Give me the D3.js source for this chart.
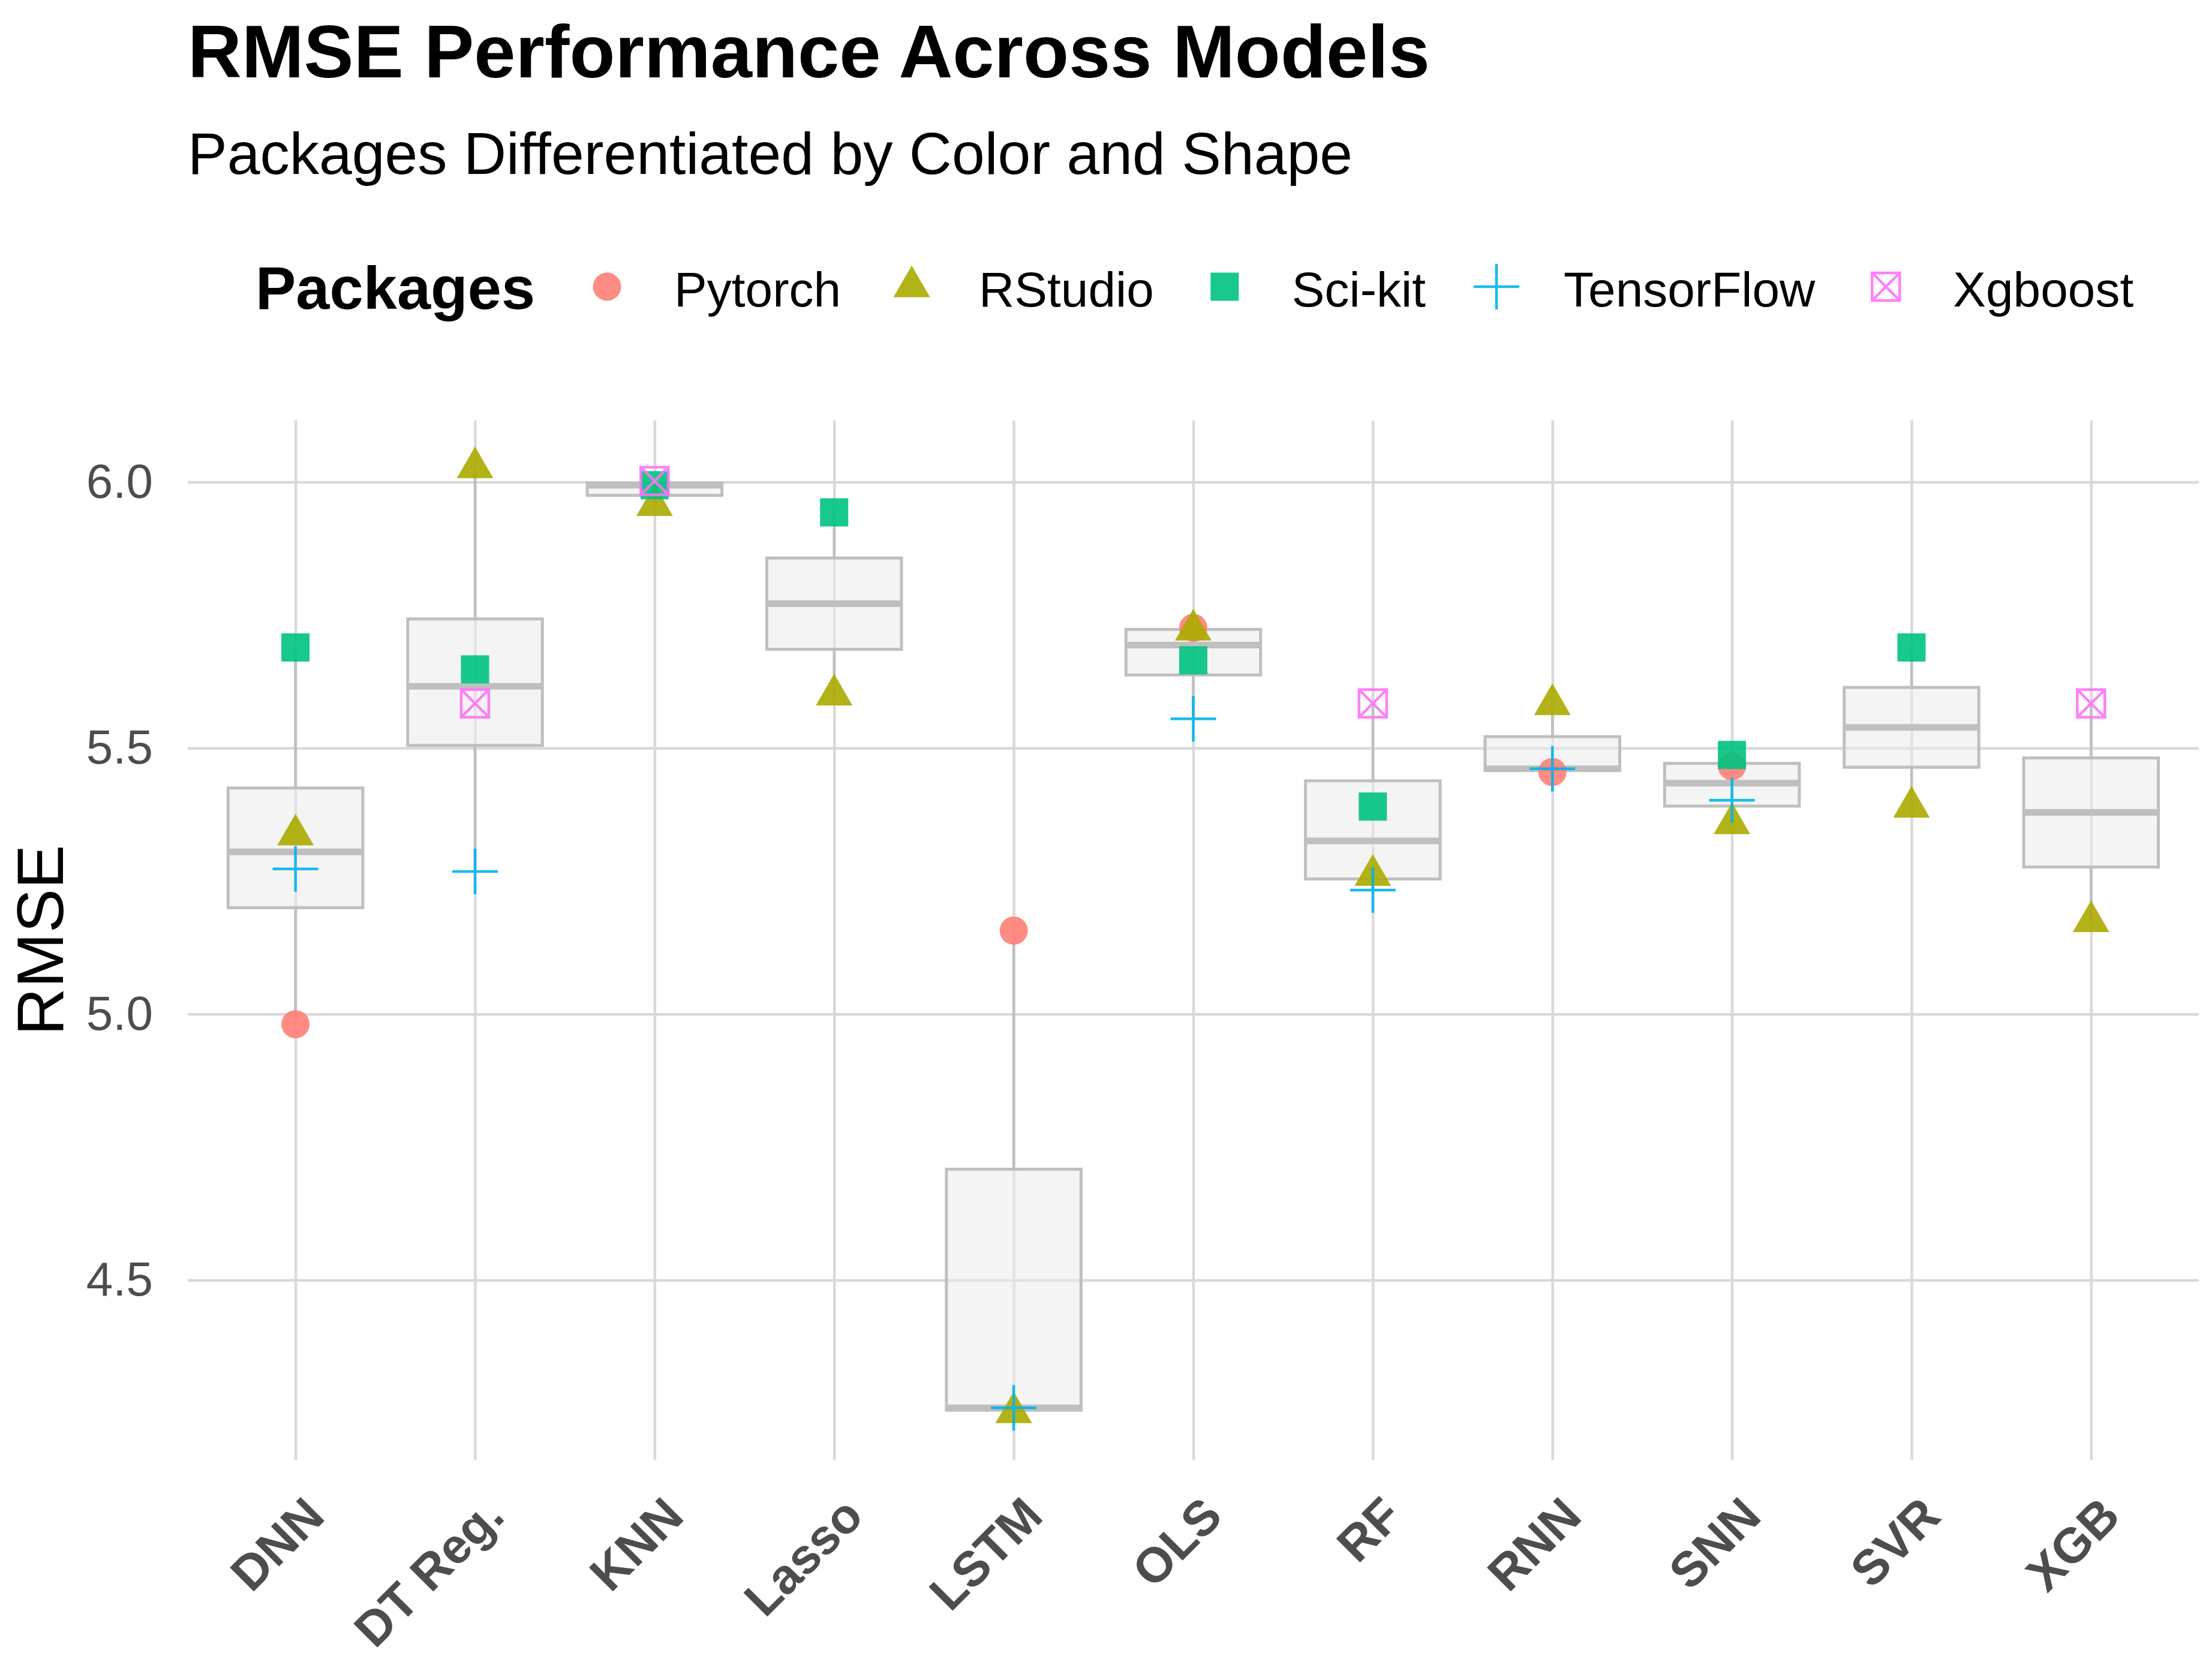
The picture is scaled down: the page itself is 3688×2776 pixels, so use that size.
<!DOCTYPE html>
<html>
<head>
<meta charset="utf-8">
<script src="https://cdn.jsdelivr.net/npm/d3@7"></script>
<style>
  body { margin: 0; background: #fff; }
  text { font-family: 'Liberation Sans', Arial, sans-serif; }
</style>
</head>
<body>
<svg id="chart"></svg>
<script>
// categories on the x axis
let models = ['DNN', 'DT Reg.', 'KNN', 'Lasso', 'LSTM', 'OLS', 'RF', 'RNN', 'SNN', 'SVR', 'XGB'];
let packages = ['Pytorch', 'RStudio', 'Sci-kit', 'TensorFlow', 'Xgboost'];

// RMSE per package, one value per model (null = not run)
let pytorch    = [4.981, null,  null,  null,  5.157, 5.726, null,  5.455, 5.466, null,  null];
let rstudio    = [5.337, 6.027, 5.956, 5.600, 4.251, 5.722, 5.261, 5.582, 5.358, 5.389, 5.174];
let scikit     = [5.689, 5.648, 5.994, 5.943, null,  5.665, 5.390, null,  5.487, 5.689, null];
let tensorflow = [5.273, 5.268, null,  null,  4.260, 5.555, 5.233, 5.461, 5.402, null,  null];
let xgboost    = [null,  5.584, 6.002, null,  null,  null,  5.584, null,  null,  null,  5.584];

let yTicks = [4.5, 5.0, 5.5, 6.0];

let seriesValues = [pytorch, rstudio, scikit, tensorflow, xgboost];
let colors = ['#FF7F77', '#ABAB00', '#00C27F', '#00B2EE', '#FF72F7'];

let width = 3688, height = 2776;
let panel = {left: 313, right: 3666, top: 701, bottom: 2434};

let svg = d3.select('#chart')
        .attr('width', width)
        .attr('height', height);

// long format table
let points = [];
packages.forEach(function(p, i) {
  seriesValues[i].forEach(function(v, j) {
    if (v !== null) points.push({pkg: p, idx: i, model: models[j], value: v});
  });
});

let allVals = points.map(function(d) { return d.value; });
let lo = d3.min(allVals), hi = d3.max(allVals);
let pad = (hi - lo) * 0.05;

let x = d3.scalePoint()
        .domain(models)
        .range([panel.left, panel.right])
        .padding(0.6);

let y = d3.scaleLinear()
        .domain([lo - pad, hi + pad])
        .range([panel.bottom, panel.top]);

// grid + y tick labels
let yAxis = d3.axisLeft(y)
        .tickValues(yTicks)
        .tickFormat(d3.format('.1f'))
        .tickSize(-(panel.right - panel.left))
        .tickPadding(58);

let yAxis_g = svg.append('g')
        .attr('class', 'y axis')
        .attr('transform', 'translate(' + panel.left + ',0)')
        .call(yAxis);
yAxis_g.select('.domain').remove();
yAxis_g.selectAll('line').attr('stroke', '#D9D9D9').attr('stroke-width', 4.5);
yAxis_g.selectAll('text')
        .attr('font-size', 80)
        .attr('fill', '#4D4D4D')
        .style('font-family', "'Liberation Sans', Arial, sans-serif");

let xAxis = d3.axisBottom(x)
        .tickSize(-(panel.bottom - panel.top))
        .tickPadding(0);

let xAxis_g = svg.append('g')
        .attr('class', 'x axis')
        .attr('transform', 'translate(0,' + panel.bottom + ')')
        .call(xAxis);
xAxis_g.select('.domain').remove();
xAxis_g.selectAll('line').attr('stroke', '#D9D9D9').attr('stroke-width', 4.5);
xAxis_g.selectAll('text')
        .attr('x', 0)
        .attr('y', 0)
        .attr('dy', '0.72em')
        .attr('transform', 'translate(10,56) rotate(-45)')
        .attr('text-anchor', 'end')
        .attr('font-size', 82)
        .attr('font-weight', 'bold')
        .attr('fill', '#4D4D4D')
        .style('font-family', "'Liberation Sans', Arial, sans-serif");

// boxplot stats per model
let stats = models.map(function(m) {
  let vals = points.filter(function(d) { return d.model === m; })
          .map(function(d) { return d.value; })
          .sort(d3.ascending);
  let q1 = d3.quantile(vals, 0.25);
  let med = d3.quantile(vals, 0.5);
  let q3 = d3.quantile(vals, 0.75);
  let iqr = q3 - q1;
  let inside = vals.filter(function(v) { return v >= q1 - 1.5 * iqr && v <= q3 + 1.5 * iqr; });
  return {model: m, q1: q1, med: med, q3: q3, lo: d3.min(inside), hi: d3.max(inside)};
});

let boxW = x.step() * 0.75;
let boxColor = '#BFBFBF';

let box = svg.append('g').attr('class', 'boxes')
        .selectAll('g')
        .data(stats)
        .enter().append('g');

box.append('line')
        .attr('x1', function(d) { return x(d.model); })
        .attr('x2', function(d) { return x(d.model); })
        .attr('y1', function(d) { return y(d.q3); })
        .attr('y2', function(d) { return y(d.hi); })
        .attr('stroke', boxColor).attr('stroke-width', 4.5);

box.append('line')
        .attr('x1', function(d) { return x(d.model); })
        .attr('x2', function(d) { return x(d.model); })
        .attr('y1', function(d) { return y(d.q1); })
        .attr('y2', function(d) { return y(d.lo); })
        .attr('stroke', boxColor).attr('stroke-width', 4.5);

box.append('rect')
        .attr('x', function(d) { return x(d.model) - boxW / 2; })
        .attr('y', function(d) { return y(d.q3); })
        .attr('width', boxW)
        .attr('height', function(d) { return y(d.q1) - y(d.q3); })
        .attr('fill', '#EAEAEA')
        .attr('fill-opacity', 0.53)
        .attr('stroke', boxColor)
        .attr('stroke-width', 5);

box.append('line')
        .attr('x1', function(d) { return x(d.model) - boxW / 2; })
        .attr('x2', function(d) { return x(d.model) + boxW / 2; })
        .attr('y1', function(d) { return y(d.med); })
        .attr('y2', function(d) { return y(d.med); })
        .attr('stroke', boxColor).attr('stroke-width', 11);

// marker shapes, one per package
let symbolPlus = {
  draw: function(ctx, size) {
    let r = Math.sqrt(size) / 2;
    ctx.moveTo(-r, 0); ctx.lineTo(r, 0);
    ctx.moveTo(0, -r); ctx.lineTo(0, r);
  }
};
let symbolBoxX = {
  draw: function(ctx, size) {
    let r = Math.sqrt(size) / 2;
    ctx.moveTo(-r, -r); ctx.lineTo(r, -r); ctx.lineTo(r, r); ctx.lineTo(-r, r); ctx.closePath();
    ctx.moveTo(-r, -r); ctx.lineTo(r, r);
    ctx.moveTo(r, -r); ctx.lineTo(-r, r);
  }
};
let shapes = [
  {type: d3.symbolCircle, size: Math.PI * 23.5 * 23.5, filled: true},
  {type: d3.symbolTriangle, size: 1610, filled: true},
  {type: d3.symbolSquare, size: 47 * 47, filled: true},
  {type: symbolPlus, size: 76 * 76, filled: false, sw: 4.5},
  {type: symbolBoxX, size: 46 * 46, filled: false, sw: 4.5}
];

let drawMarker = function(sel) {
  sel.attr('d', function(d) { return d3.symbol().type(shapes[d.idx].type).size(shapes[d.idx].size)(); })
          .attr('fill', function(d) { return shapes[d.idx].filled ? colors[d.idx] : 'none'; })
          .attr('stroke', function(d) { return shapes[d.idx].filled ? 'none' : colors[d.idx]; })
          .attr('stroke-width', function(d) { return shapes[d.idx].sw || 0; })
          .attr('opacity', 0.9);
};

svg.append('g').attr('class', 'points')
        .selectAll('path')
        .data(points)
        .enter().append('path')
        .attr('transform', function(d) { return 'translate(' + x(d.model) + ',' + y(d.value) + ')'; })
        .call(drawMarker);

// titles
svg.append('text')
        .attr('x', panel.left).attr('y', 129)
        .attr('font-size', 124.5).attr('font-weight', 'bold')
        .attr('fill', '#000')
        .text('RMSE Performance Across Models');

svg.append('text')
        .attr('x', panel.left).attr('y', 290)
        .attr('font-size', 98.5)
        .attr('fill', '#000')
        .text('Packages Differentiated by Color and Shape');

svg.append('text')
        .attr('transform', 'translate(105,' + ((panel.top + panel.bottom) / 2) + ') rotate(-90)')
        .attr('text-anchor', 'middle')
        .attr('font-size', 110)
        .attr('fill', '#000')
        .text('RMSE');

// legend
let legend = svg.append('g').attr('class', 'legend');
let legTitle = legend.append('text')
        .attr('x', 426).attr('y', 515)
        .attr('font-size', 101).attr('font-weight', 'bold')
        .attr('fill', '#000')
        .text('Packages');

let cursor = 426 + legTitle.node().getComputedTextLength() + 120;
packages.forEach(function(p, i) {
  legend.append('path')
          .datum({idx: i})
          .attr('transform', 'translate(' + cursor + ',478)')
          .call(drawMarker);
  let t = legend.append('text')
          .attr('x', cursor + 112).attr('y', 511)
          .attr('font-size', 82)
          .attr('fill', '#000')
          .text(p);
  cursor = cursor + 112 + t.node().getComputedTextLength() + 118;
});
</script>
</body>
</html>
